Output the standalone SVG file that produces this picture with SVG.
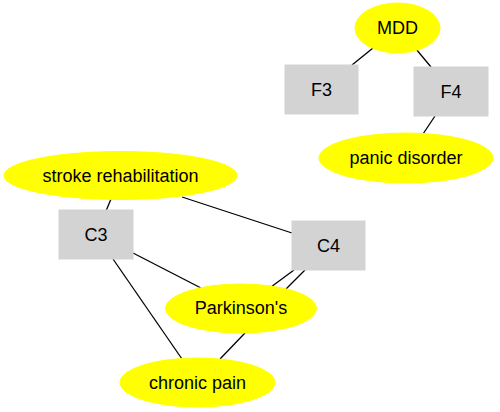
<svg xmlns="http://www.w3.org/2000/svg" width="500" height="412" viewBox="0 0 500 412">
<style>
.e{fill:#ffff00;stroke:#ffff00}
.r{fill:#d3d3d3;stroke:#d3d3d3}
text{font-family:"Liberation Sans",Arial,sans-serif;font-size:18px;fill:#000;text-anchor:middle;dominant-baseline:central}
.c line{stroke:#000;stroke-width:1.3}
</style>
<rect width="500" height="412" fill="#fff"/>
<g class="c" id="connectors">
<line x1="373" y1="48" x2="352" y2="65"/>
<line x1="416" y1="49" x2="431" y2="67"/>
<line x1="435" y1="116" x2="423" y2="134"/>
<line x1="111" y1="199" x2="106" y2="211"/>
<line x1="182" y1="197" x2="292" y2="233"/>
<line x1="133" y1="253" x2="201" y2="288"/>
<line x1="113" y1="259" x2="182" y2="359"/>
<line x1="294" y1="270" x2="271" y2="287"/>
<line x1="305" y1="270" x2="286" y2="289"/>
<line x1="245" y1="333" x2="220" y2="359"/>
</g>
<g id="MDD"><ellipse class="e" cx="397.5" cy="28" rx="42.5" ry="25"/><text x="397.5" y="28">MDD</text></g>
<g id="F3"><rect class="r" x="285" y="65" width="73" height="49"/><text x="321.5" y="89.5">F3</text></g>
<g id="F4"><rect class="r" x="414" y="67" width="74" height="49"/><text x="451" y="91.5">F4</text></g>
<g id="panic"><ellipse class="e" cx="406" cy="158" rx="87" ry="25"/><text x="406" y="158">panic disorder</text></g>
<g id="stroke"><ellipse class="e" cx="120.5" cy="175.5" rx="116.5" ry="24"/><text x="120.5" y="175.5">stroke rehabilitation</text></g>
<g id="C3"><rect class="r" x="59" y="210" width="74" height="49"/><text x="96" y="234.5">C3</text></g>
<g id="C4"><rect class="r" x="292" y="221" width="73" height="49"/><text x="328.5" y="245.5">C4</text></g>
<g id="parkinsons"><ellipse class="e" cx="241" cy="308.5" rx="75.5" ry="24.5"/><text x="241" y="308">Parkinson's</text></g>
<g id="chronic"><ellipse class="e" cx="197.5" cy="382.5" rx="77.5" ry="24.5"/><text x="197.5" y="382.5">chronic pain</text></g>
</svg>
